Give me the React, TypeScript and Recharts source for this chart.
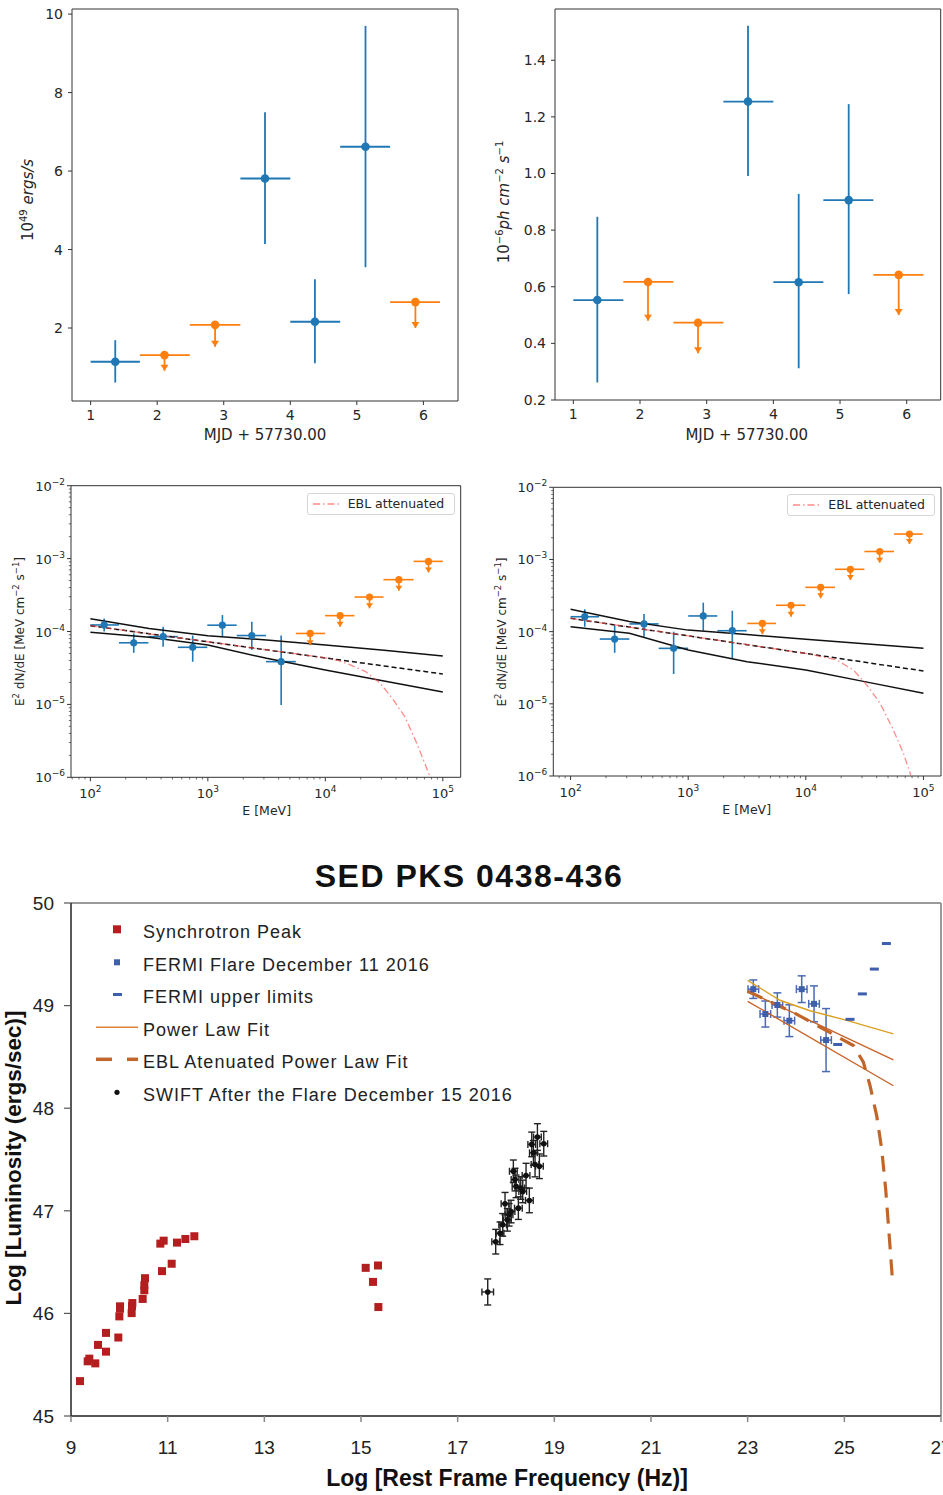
import React from 'react';
import { ScatterChart, Scatter, XAxis, YAxis, ErrorBar, ReferenceLine, Legend, Label } from 'recharts';

const MPL = "'DejaVu Sans', 'Liberation Sans', sans-serif";
const ARIAL = "'Liberation Sans', Arial, sans-serif";
const BLUE = '#1f77b4';
const ORANGE = '#ff7f0e';
const SPINE = '#333';

// ---------- Panel 1: light curve, energy flux (10^49 erg/s) ----------
const lc1DetDay = [1.37, 3.62, 4.37, 5.13];
const lc1DetBinLo = [1.0, 3.25, 4.0, 4.75];
const lc1DetBinHi = [1.74, 4.0, 4.75, 5.5];
const lc1DetVal = [1.14, 5.81, 2.16, 6.62];
const lc1DetLo = [0.61, 4.14, 1.1, 3.55];
const lc1DetHi = [1.69, 7.5, 3.24, 9.7];
const lc1UlDay = [2.11, 2.87, 5.88];
const lc1UlBinLo = [1.74, 2.49, 5.5];
const lc1UlBinHi = [2.49, 3.25, 6.25];
const lc1UlVal = [1.31, 2.08, 2.66];
const lc1UlArrow = [0.91, 1.52, 2.0];
const lc1YTicks = [2, 4, 6, 8, 10];

// ---------- Panel 2: light curve, photon flux (10^-6 ph cm^-2 s^-1) ----------
const lc2DetDay = [1.36, 3.62, 4.38, 5.13];
const lc2DetBinLo = [1.0, 3.25, 4.0, 4.75];
const lc2DetBinHi = [1.75, 4.0, 4.75, 5.5];
const lc2DetVal = [0.553, 1.254, 0.616, 0.906];
const lc2DetLo = [0.262, 0.991, 0.312, 0.574];
const lc2DetHi = [0.847, 1.522, 0.928, 1.245];
const lc2UlDay = [2.12, 2.87, 5.88];
const lc2UlBinLo = [1.75, 2.5, 5.5];
const lc2UlBinHi = [2.5, 3.25, 6.25];
const lc2UlVal = [0.617, 0.473, 0.642];
const lc2UlArrow = [0.48, 0.365, 0.5];
const lc2YTicks = [0.2, 0.4, 0.6, 0.8, 1.0, 1.2, 1.4];
const dayTicks = [1, 2, 3, 4, 5, 6];

// ---------- Panel 3: Fermi SED (left) ----------
const s1E = [131, 234, 416, 743, 1330, 2366, 4207];
const s1ELo = [100, 175, 312, 555, 990, 1760, 3130];
const s1EHi = [175, 312, 555, 990, 1760, 3130, 5610];
const s1F = [1.23e-4, 7.0e-5, 8.5e-5, 6.07e-5, 1.22e-4, 8.8e-5, 3.86e-5];
const s1FLo = [1.0e-4, 5.1e-5, 6.2e-5, 3.85e-5, 8.5e-5, 5.6e-5, 9.8e-6];
const s1FHi = [1.51e-4, 9.4e-5, 1.16e-4, 8.8e-5, 1.68e-4, 1.36e-4, 8.8e-5];
const s1UlE = [7430, 13360, 23770, 42270, 75500];
const s1UlELo = [5610, 9950, 17700, 31260, 56360];
const s1UlEHi = [9950, 17700, 31260, 56360, 100000];
const s1UlF = [9.4e-5, 1.65e-4, 2.97e-4, 5.14e-4, 9.16e-4];
const s1UlArrow = [6.5e-5, 1.16e-4, 2.08e-4, 3.63e-4, 6.47e-4];
const s1BandE = [100, 316, 1000, 3162, 10000, 31623, 100000];
const s1BandUp = [1.5e-4, 1.1e-4, 8.77e-5, 7.64e-5, 6.53e-5, 5.52e-5, 4.61e-5];
const s1BandLow = [9.75e-5, 8.32e-5, 6.53e-5, 4.29e-5, 2.96e-5, 2.09e-5, 1.48e-5];
const s1FitE = [100, 3162, 100000];
const s1FitF = [1.2e-4, 5.6e-5, 2.61e-5];
const s1EblE = [100, 1000, 10000, 13000, 16300, 22000, 29300, 38000, 47500, 60100, 78200];
const s1EblF = [1.2e-4, 7.23e-5, 4.35e-5, 3.98e-5, 3.48e-5, 2.82e-5, 1.95e-5, 1.15e-5, 6.79e-6, 2.92e-6, 1.0e-6];

// ---------- Panel 4: Fermi SED (right) ----------
const s2E = [132, 237, 421, 752, 1343, 2371];
const s2ELo = [100, 177, 316, 561, 1000, 1770];
const s2EHi = [175, 316, 561, 1000, 1770, 3140];
const s2F = [1.61e-4, 7.9e-5, 1.28e-4, 5.87e-5, 1.65e-4, 1.03e-4];
const s2FLo = [1.17e-4, 5.1e-5, 8.5e-5, 2.59e-5, 1.03e-4, 4.27e-5];
const s2FHi = [2.04e-4, 1.21e-4, 1.76e-4, 1.0e-4, 2.52e-4, 1.95e-4];
const s2UlE = [4270, 7480, 13370, 23930, 42460, 76030];
const s2UlELo = [3180, 5580, 9910, 17700, 31500, 56200];
const s2UlEHi = [5580, 9910, 17700, 31500, 56200, 98600];
const s2UlF = [1.3e-4, 2.32e-4, 4.11e-4, 7.31e-4, 1.29e-3, 2.25e-3];
const s2UlArrow = [9.2e-5, 1.61e-4, 2.9e-4, 5.2e-4, 9.04e-4, 1.64e-3];
const s2BandUpE = [100, 316, 1000, 3162, 10000, 100000];
const s2BandUp = [2.04e-4, 1.38e-4, 1.05e-4, 9.1e-5, 7.83e-5, 5.87e-5];
const s2BandLowE = [100, 316, 1000, 3162, 10000, 31623, 100000];
const s2BandLow = [1.17e-4, 9.48e-5, 5.57e-5, 3.84e-5, 2.94e-5, 2.03e-5, 1.4e-5];
const s2FitE = [100, 3162, 100000];
const s2FitF = [1.53e-4, 6.6e-5, 2.85e-5];
const s2EblE = [100, 1000, 10000, 18300, 25400, 33000, 42800, 55500, 67600, 78000];
const s2EblF = [1.53e-4, 8.75e-5, 5.0e-5, 4.05e-5, 2.94e-5, 1.82e-5, 1.02e-5, 4.34e-6, 2.06e-6, 1.03e-6];

// ---------- Panel 5: broadband SED ----------
const syncNu = [9.186, 9.345, 9.379, 9.503, 9.559, 9.724, 9.724, 9.979, 10.0, 10.014, 10.014, 10.255, 10.262, 10.269, 10.483, 10.517, 10.517, 10.531, 10.848, 10.917, 10.883, 11.083, 11.193, 11.366, 11.552, 15.097, 15.352, 15.248, 15.359];
const syncL = [45.34, 45.533, 45.559, 45.513, 45.693, 45.81, 45.627, 45.765, 45.971, 46.046, 46.069, 46.003, 46.072, 46.101, 46.141, 46.225, 46.275, 46.343, 46.68, 46.709, 46.412, 46.484, 46.69, 46.725, 46.752, 46.444, 46.467, 46.307, 46.062];
const fermiNu = [23.117, 23.366, 23.614, 23.862, 24.118, 24.373, 24.622];
const fermiL = [49.16, 48.918, 49.006, 48.853, 49.16, 49.017, 48.664];
const fermiLErr = [0.09, 0.127, 0.118, 0.155, 0.13, 0.175, 0.307];
const fermiNuErr = [0.11, 0.11, 0.11, 0.11, 0.11, 0.11, 0.11];
const fermiUlNu = [24.863, 25.118, 25.373, 25.621, 25.87];
const fermiUlL = [48.621, 48.866, 49.114, 49.356, 49.605];
const swiftNu = [17.622, 17.787, 17.876, 17.932, 17.98, 18.028, 18.063, 18.104, 18.152, 18.187, 18.208, 18.256, 18.305, 18.346, 18.415, 18.483, 18.533, 18.567, 18.601, 18.65, 18.691, 18.781];
const swiftL = [46.209, 46.699, 46.781, 46.863, 47.069, 46.912, 46.961, 46.993, 47.385, 47.304, 47.238, 47.026, 47.222, 47.189, 47.343, 47.101, 47.647, 47.565, 47.451, 47.719, 47.434, 47.654];
const swiftNuErr = [0.12, 0.08, 0.08, 0.08, 0.08, 0.08, 0.08, 0.08, 0.08, 0.08, 0.08, 0.08, 0.08, 0.08, 0.08, 0.08, 0.08, 0.08, 0.08, 0.08, 0.08, 0.08];
const swiftLErr = [0.127, 0.12, 0.11, 0.11, 0.11, 0.11, 0.11, 0.11, 0.11, 0.11, 0.11, 0.11, 0.11, 0.11, 0.12, 0.12, 0.12, 0.12, 0.12, 0.13, 0.12, 0.12];
const plAnu = [23.0, 23.667, 24.29, 25.05, 26.015];
const plAL = [49.245, 49.052, 48.95, 48.856, 48.725];
const plBnu = [23.0, 26.015];
const plBL = [49.14, 48.471];
const plCnu = [23.0, 26.015];
const plCL = [49.042, 48.219];
const eblNu = [23.0, 24.0, 25.187, 25.394, 25.532, 25.67, 25.774, 25.856, 25.925, 26.001];
const eblL = [49.14, 48.92, 48.611, 48.448, 48.219, 47.925, 47.598, 47.206, 46.781, 46.291];
const sedXTicks = [9, 11, 13, 15, 17, 19, 21, 23, 25, 27];
const sedYTicks = [45, 46, 47, 48, 49, 50];
const sedLegendLabels = ['Synchrotron Peak', 'FERMI Flare December 11 2016', 'FERMI upper limits', 'Power Law Fit', 'EBL Atenuated Power Law Fit', 'SWIFT After the Flare December 15 2016'];

// ---------- helpers ----------
const mkDet = (xs: number[], xlo: number[], xhi: number[], ys: number[], ylo: number[], yhi: number[]) =>
  xs.map((x, i) => ({ x, y: ys[i], ex: [x - xlo[i], xhi[i] - x], ey: [ys[i] - ylo[i], yhi[i] - ys[i]] }));
const mkUl = (xs: number[], xlo: number[], xhi: number[], ys: number[], tip: number[]) =>
  xs.map((x, i) => ({ x, y: ys[i], ex: [x - xlo[i], xhi[i] - x], ey: [ys[i] - tip[i], 0] }));
const mkPts = (xs: number[], ys: number[]) => xs.map((x, i) => ({ x, y: ys[i] }));
const mkSym = (xs: number[], ys: number[], exs: number[], eys: number[]) =>
  xs.map((x, i) => ({ x, y: ys[i], ex: exs[i], ey: eys[i] }));

const decadeTicks = (lo: number, hi: number, from: number, to: number) => {
  const out: number[] = [];
  for (let e = from; e <= to; e++) {
    for (let m = 1; m <= 9; m++) {
      const v = m * Math.pow(10, e);
      if (v >= lo * 0.999 && v <= hi * 1.001) out.push(v);
    }
  }
  return out;
};

const Circle = (color: string, r: number) => (p: any) => <circle cx={p.cx} cy={p.cy} r={r} fill={color} />;
const DownTri = (color: string) => (p: any) => (
  <polygon points={`${p.cx - 4},${p.cy - 6} ${p.cx + 4},${p.cy - 6} ${p.cx},${p.cy}`} fill={color} />
);
const NoShape = () => <g />;
const Square = (color: string, s: number) => (p: any) => <rect x={p.cx - s / 2} y={p.cy - s / 2} width={s} height={s} fill={color} />;
const Dash = (color: string) => (p: any) => <rect x={p.cx - 4.5} y={p.cy - 1.5} width={9} height={3} fill={color} />;

const isMajor = (v: number) => Math.abs(Math.log10(v) - Math.round(Math.log10(v))) < 1e-9;

const LogXTick = (p: any) => {
  const v = p.payload.value;
  const major = isMajor(v);
  const e = Math.round(Math.log10(v));
  return (
    <g>
      <line x1={p.x} x2={p.x} y1={p.y} y2={p.y + (major ? 4 : 2.2)} stroke={SPINE} strokeWidth={major ? 1 : 0.7} />
      {major && (
        <text x={p.x} y={p.y + 21} textAnchor="middle" fontSize={13} fontFamily={MPL} fill="#262626">
          10<tspan dy={-6} fontSize={9}>{e}</tspan>
        </text>
      )}
    </g>
  );
};
const LogYTick = (p: any) => {
  const v = p.payload.value;
  const major = isMajor(v);
  const e = Math.round(Math.log10(v));
  return (
    <g>
      <line x1={p.x} x2={p.x - (major ? 4 : 2.2)} y1={p.y} y2={p.y} stroke={SPINE} strokeWidth={major ? 1 : 0.7} />
      {major && (
        <text x={p.x - 6} y={p.y + 5} textAnchor="end" fontSize={13} fontFamily={MPL} fill="#262626">
          10<tspan dy={-6} fontSize={9}>{'\u2212' + Math.abs(e)}</tspan>
        </text>
      )}
    </g>
  );
};

// ---------- light-curve panel ----------
function LightCurve(props: any) {
  const { left, top, w, h, margin, yW, xH, xDomain, yDomain, yTicks, yFmt, det, ul, tips, xLab, yLab } = props;
  return (
    <div style={{ position: 'absolute', left, top }}>
      <ScatterChart width={w} height={h} margin={margin}>
        <XAxis type="number" dataKey="x" domain={xDomain} allowDataOverflow ticks={dayTicks} interval={0} height={xH}
          tickSize={4} tickMargin={5} stroke={SPINE} tick={{ fontSize: 14, fill: '#262626', fontFamily: MPL }}>
          <Label content={() => xLab} />
        </XAxis>
        <YAxis type="number" dataKey="y" domain={yDomain} allowDataOverflow ticks={yTicks} interval={0} width={yW}
          tickFormatter={yFmt} tickSize={4} tickMargin={5} stroke={SPINE} tick={{ fontSize: 14, fill: '#262626', fontFamily: MPL }}>
          <Label content={() => yLab} />
        </YAxis>
        <ReferenceLine y={yDomain[1]} stroke={SPINE} />
        <ReferenceLine x={xDomain[1]} stroke={SPINE} />
        <Scatter data={det} shape={Circle(BLUE, 4.3)} isAnimationActive={false}>
          <ErrorBar dataKey="ex" direction="x" width={0} stroke={BLUE} strokeWidth={1.8} />
          <ErrorBar dataKey="ey" direction="y" width={0} stroke={BLUE} strokeWidth={1.8} />
        </Scatter>
        <Scatter data={ul} shape={Circle(ORANGE, 4.3)} isAnimationActive={false}>
          <ErrorBar dataKey="ex" direction="x" width={0} stroke={ORANGE} strokeWidth={1.8} />
          <ErrorBar dataKey="ey" direction="y" width={0} stroke={ORANGE} strokeWidth={1.8} />
        </Scatter>
        <Scatter data={tips} shape={DownTri(ORANGE)} isAnimationActive={false} />
      </ScatterChart>
    </div>
  );
}

// ---------- Fermi SED panel ----------
function FermiSed(props: any) {
  const { left, top, w, h, margin, yW, xH, xDomain, det, ul, tips, bandUp, bandLow, fit, ebl, xLab, yLab, legendPos } = props;
  const xTicks = decadeTicks(xDomain[0], xDomain[1], 1, 5);
  const yTicks = decadeTicks(1e-6, 1e-2, -6, -2);
  const lineProps = (stroke: string, width: number, dash?: string, opacity = 1) => ({
    stroke, strokeWidth: width, strokeDasharray: dash, strokeOpacity: opacity,
  });
  return (
    <div style={{ position: 'absolute', left, top }}>
      <ScatterChart width={w} height={h} margin={margin}>
        <XAxis type="number" dataKey="x" scale="log" domain={xDomain} allowDataOverflow ticks={xTicks} interval={0}
          height={xH} tickSize={0} tickMargin={0} tickLine={false} stroke={SPINE} tick={<LogXTick />}>
          <Label content={() => xLab} />
        </XAxis>
        <YAxis type="number" dataKey="y" scale="log" domain={[1e-6, 1e-2]} allowDataOverflow ticks={yTicks} interval={0}
          width={yW} tickSize={0} tickMargin={0} tickLine={false} stroke={SPINE} tick={<LogYTick />}>
          <Label content={() => yLab} />
        </YAxis>
        <ReferenceLine y={1e-2} stroke={SPINE} />
        <ReferenceLine x={xDomain[1]} stroke={SPINE} />
        <Scatter data={bandUp} shape={NoShape} line={lineProps('#111', 1.5)} isAnimationActive={false} />
        <Scatter data={bandLow} shape={NoShape} line={lineProps('#111', 1.5)} isAnimationActive={false} />
        <Scatter data={fit} shape={NoShape} line={lineProps('#111', 1.5, '5 3')} isAnimationActive={false} />
        <Scatter data={ebl} shape={NoShape} line={lineProps('#ff4d4d', 1.3, '7 3 1.5 3', 0.65)} isAnimationActive={false} />
        <Scatter data={det} shape={Circle(BLUE, 3.6)} isAnimationActive={false}>
          <ErrorBar dataKey="ex" direction="x" width={0} stroke={BLUE} strokeWidth={1.6} />
          <ErrorBar dataKey="ey" direction="y" width={0} stroke={BLUE} strokeWidth={1.6} />
        </Scatter>
        <Scatter data={ul} shape={Circle(ORANGE, 3.6)} isAnimationActive={false}>
          <ErrorBar dataKey="ex" direction="x" width={0} stroke={ORANGE} strokeWidth={1.6} />
          <ErrorBar dataKey="ey" direction="y" width={0} stroke={ORANGE} strokeWidth={1.6} />
        </Scatter>
        <Scatter data={tips} shape={(p: any) => (
          <polygon points={`${p.cx - 3.5},${p.cy - 5} ${p.cx + 3.5},${p.cy - 5} ${p.cx},${p.cy}`} fill={ORANGE} />
        )} isAnimationActive={false} />
        <Legend layout="horizontal" verticalAlign="middle" align="center"
          wrapperStyle={{ left: legendPos[0], top: legendPos[1], width: 148, height: 22 }}
          content={() => (
            <div style={{ width: 146, height: 20, border: '1px solid #d6d6d6', borderRadius: 3, background: 'rgba(255,255,255,0.8)', position: 'relative', fontFamily: MPL, fontSize: 12.5, color: '#262626' }}>
              <svg width={30} height={20} style={{ position: 'absolute', left: 4, top: 0 }}>
                <line x1={1} x2={27} y1={10} y2={10} stroke="#ff4d4d" strokeOpacity={0.65} strokeWidth={1.3} strokeDasharray="7 3 1.5 3" />
              </svg>
              <span style={{ position: 'absolute', left: 40, top: 2, whiteSpace: 'nowrap' }}>EBL attenuated</span>
            </div>
          )} />
      </ScatterChart>
    </div>
  );
}

const eLabel = (cx: number, by: number) => (
  <text x={cx} y={by} textAnchor="middle" fontSize={12.5} fontFamily={MPL} fill="#262626">E [MeV]</text>
);
const e2Label = (bx: number, cy: number) => (
  <text x={bx} y={cy} transform={`rotate(-90, ${bx}, ${cy})`} textAnchor="middle" fontSize={12} fontFamily={MPL} fill="#262626">
    E<tspan dy={-5} fontSize={8.5}>2</tspan><tspan dy={5}> dN/dE [MeV cm</tspan><tspan dy={-5} fontSize={8.5}>{'\u22122'}</tspan><tspan dy={5}> s</tspan><tspan dy={-5} fontSize={8.5}>{'\u22121'}</tspan><tspan dy={5}>]</tspan>
  </text>
);
const mjdLabel = (cx: number, by: number) => (
  <text x={cx} y={by} textAnchor="middle" fontSize={15} fontFamily={MPL} fill="#262626">MJD + 57730.00</text>
);

// ---------- SED legend ----------
const SedLegend = () => {
  const rows = sedLegendLabels;
  const marker = (i: number) => {
    switch (i) {
      case 0: return <rect x={23} y={12.3} width={8} height={8} fill="#b41e1e" />;
      case 1: return <rect x={24} y={13.3} width={6} height={6} fill="#3d5fae" />;
      case 2: return <rect x={23} y={15} width={9} height={3} fill="#3d5fae" />;
      case 3: return <line x1={6} x2={48} y1={16.3} y2={16.3} stroke="#e0823a" strokeWidth={1.5} />;
      case 4: return (
        <g>
          <line x1={6} x2={22} y1={16.3} y2={16.3} stroke="#c0662a" strokeWidth={3.5} />
          <line x1={37} x2={48} y1={16.3} y2={16.3} stroke="#c0662a" strokeWidth={3.5} />
        </g>
      );
      default: return <circle cx={27} cy={16.3} r={2.6} fill="#111" />;
    }
  };
  return (
    <div style={{ position: 'relative', width: 480, height: 200 }}>
      {rows.map((t, i) => (
        <div key={t} style={{ position: 'absolute', left: 0, top: i * 32.6, height: 32.6, width: 480 }}>
          <svg width={50} height={33} style={{ position: 'absolute', left: 0, top: 0 }}>{marker(i)}</svg>
          <span style={{ position: 'absolute', left: 53, top: 3, lineHeight: '32.6px', fontFamily: ARIAL, fontSize: 18, letterSpacing: 1, color: '#222', whiteSpace: 'nowrap' }}>{t}</span>
        </div>
      ))}
    </div>
  );
};

export default function App() {
  const lc1Det = mkDet(lc1DetDay, lc1DetBinLo, lc1DetBinHi, lc1DetVal, lc1DetLo, lc1DetHi);
  const lc1Ul = mkUl(lc1UlDay, lc1UlBinLo, lc1UlBinHi, lc1UlVal, lc1UlArrow);
  const lc1Tip = mkPts(lc1UlDay, lc1UlArrow);
  const lc2Det = mkDet(lc2DetDay, lc2DetBinLo, lc2DetBinHi, lc2DetVal, lc2DetLo, lc2DetHi);
  const lc2Ul = mkUl(lc2UlDay, lc2UlBinLo, lc2UlBinHi, lc2UlVal, lc2UlArrow);
  const lc2Tip = mkPts(lc2UlDay, lc2UlArrow);

  const s1Det = mkDet(s1E, s1ELo, s1EHi, s1F, s1FLo, s1FHi);
  const s1Ul = mkUl(s1UlE, s1UlELo, s1UlEHi, s1UlF, s1UlArrow);
  const s1Tip = mkPts(s1UlE, s1UlArrow);
  const s2Det = mkDet(s2E, s2ELo, s2EHi, s2F, s2FLo, s2FHi);
  const s2Ul = mkUl(s2UlE, s2UlELo, s2UlEHi, s2UlF, s2UlArrow);
  const s2Tip = mkPts(s2UlE, s2UlArrow);

  const sync = mkPts(syncNu, syncL);
  const fermi = mkSym(fermiNu, fermiL, fermiNuErr, fermiLErr);
  const fermiUl = mkPts(fermiUlNu, fermiUlL);
  const swift = mkSym(swiftNu, swiftL, swiftNuErr, swiftLErr);

  return (
    <div style={{ position: 'absolute', left: 0, top: 0, width: 943, height: 1495, background: '#fff', overflow: 'hidden' }}>
      <LightCurve left={0} top={0} w={470} h={450} margin={{ top: 9, right: 12, bottom: 0, left: 0 }} yW={72} xH={49}
        xDomain={[0.72, 6.52]} yDomain={[0.14, 10.13]} yTicks={lc1YTicks} yFmt={(v: number) => String(v)}
        det={lc1Det} ul={lc1Ul} tips={lc1Tip}
        xLab={mjdLabel(265, 440)}
        yLab={(
          <text x={33} y={200} transform="rotate(-90, 33, 200)" textAnchor="middle" fontSize={15} fontFamily={MPL} fill="#262626">
            10<tspan dy={-6} fontSize={10}>49</tspan><tspan dy={6} fontStyle="italic"> ergs/s</tspan>
          </text>
        )} />
      <LightCurve left={470} top={0} w={473} h={450} margin={{ top: 9, right: 2.3, bottom: 0, left: 0 }} yW={85} xH={50}
        xDomain={[0.725, 6.51]} yDomain={[0.2, 1.581]} yTicks={lc2YTicks} yFmt={(v: number) => v.toFixed(1)}
        det={lc2Det} ul={lc2Ul} tips={lc2Tip}
        xLab={mjdLabel(276.7, 440)}
        yLab={(
          <text x={39} y={202} transform="rotate(-90, 39, 202)" textAnchor="middle" fontSize={15} fontFamily={MPL} fill="#262626">
            10<tspan dy={-6} fontSize={10}>{'\u22126'}</tspan><tspan dy={6} fontStyle="italic">ph cm</tspan><tspan dy={-6} fontSize={10}>{'\u22122'}</tspan><tspan dy={6} fontStyle="italic"> s</tspan><tspan dy={-6} fontSize={10}>{'\u22121'}</tspan>
          </text>
        )} />
      <FermiSed left={0} top={470} w={470} h={360} margin={{ top: 15.7, right: 9.3, bottom: 0, left: 0 }} yW={71} xH={52.7}
        xDomain={[68.4, 142000]} det={s1Det} ul={s1Ul} tips={s1Tip}
        bandUp={mkPts(s1BandE, s1BandUp)} bandLow={mkPts(s1BandE, s1BandLow)} fit={mkPts(s1FitE, s1FitF)} ebl={mkPts(s1EblE, s1EblF)}
        xLab={eLabel(266.7, 345)} yLab={e2Label(24, 161.5)} legendPos={[306.7, 22.7]} />
      <FermiSed left={470} top={470} w={473} h={360} margin={{ top: 17.3, right: 2, bottom: 0, left: 0 }} yW={83.3} xH={54}
        xDomain={[71.3, 141000]} det={s2Det} ul={s2Ul} tips={s2Tip}
        bandUp={mkPts(s2BandUpE, s2BandUp)} bandLow={mkPts(s2BandLowE, s2BandLow)} fit={mkPts(s2FitE, s2FitF)} ebl={mkPts(s2EblE, s2EblF)}
        xLab={eLabel(276.7, 344)} yLab={e2Label(36, 162)} legendPos={[317.3, 24]} />

      <div style={{ position: 'absolute', left: 219, top: 860, width: 500, textAlign: 'center', fontFamily: ARIAL, fontWeight: 'bold', fontSize: 32, lineHeight: '32px', letterSpacing: 1.5, color: '#111' }}>
        SED PKS 0438-436
      </div>
      <div style={{ position: 'absolute', left: 0, top: 840 }}>
        <ScatterChart width={943} height={655} margin={{ top: 63, right: 2, bottom: 0, left: 0 }}>
          <XAxis type="number" dataKey="x" domain={[9, 27]} allowDataOverflow ticks={sedXTicks} interval={0} height={79}
            tickSize={6} tickMargin={19} axisLine={{ stroke: '#555', strokeWidth: 2 }} tickLine={{ stroke: '#888', strokeWidth: 1.5 }}
            tick={{ fontSize: 19, fill: '#222', fontFamily: ARIAL }}>
            <Label content={() => (
              <text x={507} y={646} textAnchor="middle" fontSize={23} fontWeight="bold" fontFamily={ARIAL} fill="#111">Log [Rest Frame Frequency (Hz)]</text>
            )} />
          </XAxis>
          <YAxis type="number" dataKey="y" domain={[45, 50]} allowDataOverflow ticks={sedYTicks} interval={0} width={71}
            tickSize={7} tickMargin={10} axisLine={{ stroke: '#222', strokeWidth: 1.5 }} tickLine={{ stroke: '#555', strokeWidth: 1.2 }}
            tick={{ fontSize: 19, fill: '#222', fontFamily: ARIAL }}>
            <Label content={() => (
              <text x={21} y={318} transform="rotate(-90, 21, 318)" textAnchor="middle" fontSize={22.5} fontWeight="bold" fontFamily={ARIAL} fill="#111">Log [Luminosity (ergs/sec)]</text>
            )} />
          </YAxis>
          <ReferenceLine y={50} stroke="#9a9a9a" strokeWidth={2} />
          <ReferenceLine x={27} stroke="#9a9a9a" strokeWidth={2} />
          <Scatter data={mkPts(plAnu, plAL)} shape={NoShape} line={{ stroke: '#dba021', strokeWidth: 1.4 }} lineType="joint" isAnimationActive={false} />
          <Scatter data={mkPts(plBnu, plBL)} shape={NoShape} line={{ stroke: '#c8642a', strokeWidth: 1.4 }} isAnimationActive={false} />
          <Scatter data={mkPts(plCnu, plCL)} shape={NoShape} line={{ stroke: '#c8642a', strokeWidth: 1.4 }} isAnimationActive={false} />
          <Scatter data={mkPts(eblNu, eblL)} shape={NoShape} line={{ stroke: '#c0662a', strokeWidth: 3.2, strokeDasharray: '16 10' }} isAnimationActive={false} />
          <Scatter data={sync} shape={Square('#b41e1e', 8)} isAnimationActive={false} />
          <Scatter data={fermi} shape={Square('#3d5fae', 6)} isAnimationActive={false}>
            <ErrorBar dataKey="ex" direction="x" width={4} stroke="#4a6ab5" strokeWidth={1.5} />
            <ErrorBar dataKey="ey" direction="y" width={4} stroke="#4a6ab5" strokeWidth={1.5} />
          </Scatter>
          <Scatter data={fermiUl} shape={Dash('#3d5fae')} isAnimationActive={false} />
          <Scatter data={swift} shape={Circle('#111', 2.8)} isAnimationActive={false}>
            <ErrorBar dataKey="ex" direction="x" width={3.5} stroke="#222" strokeWidth={1.4} />
            <ErrorBar dataKey="ey" direction="y" width={3.5} stroke="#222" strokeWidth={1.4} />
          </Scatter>
          <Legend layout="horizontal" verticalAlign="middle" align="center"
            wrapperStyle={{ left: 90, top: 73, width: 480, height: 200 }} content={() => <SedLegend />} />
        </ScatterChart>
      </div>
    </div>
  );
}
